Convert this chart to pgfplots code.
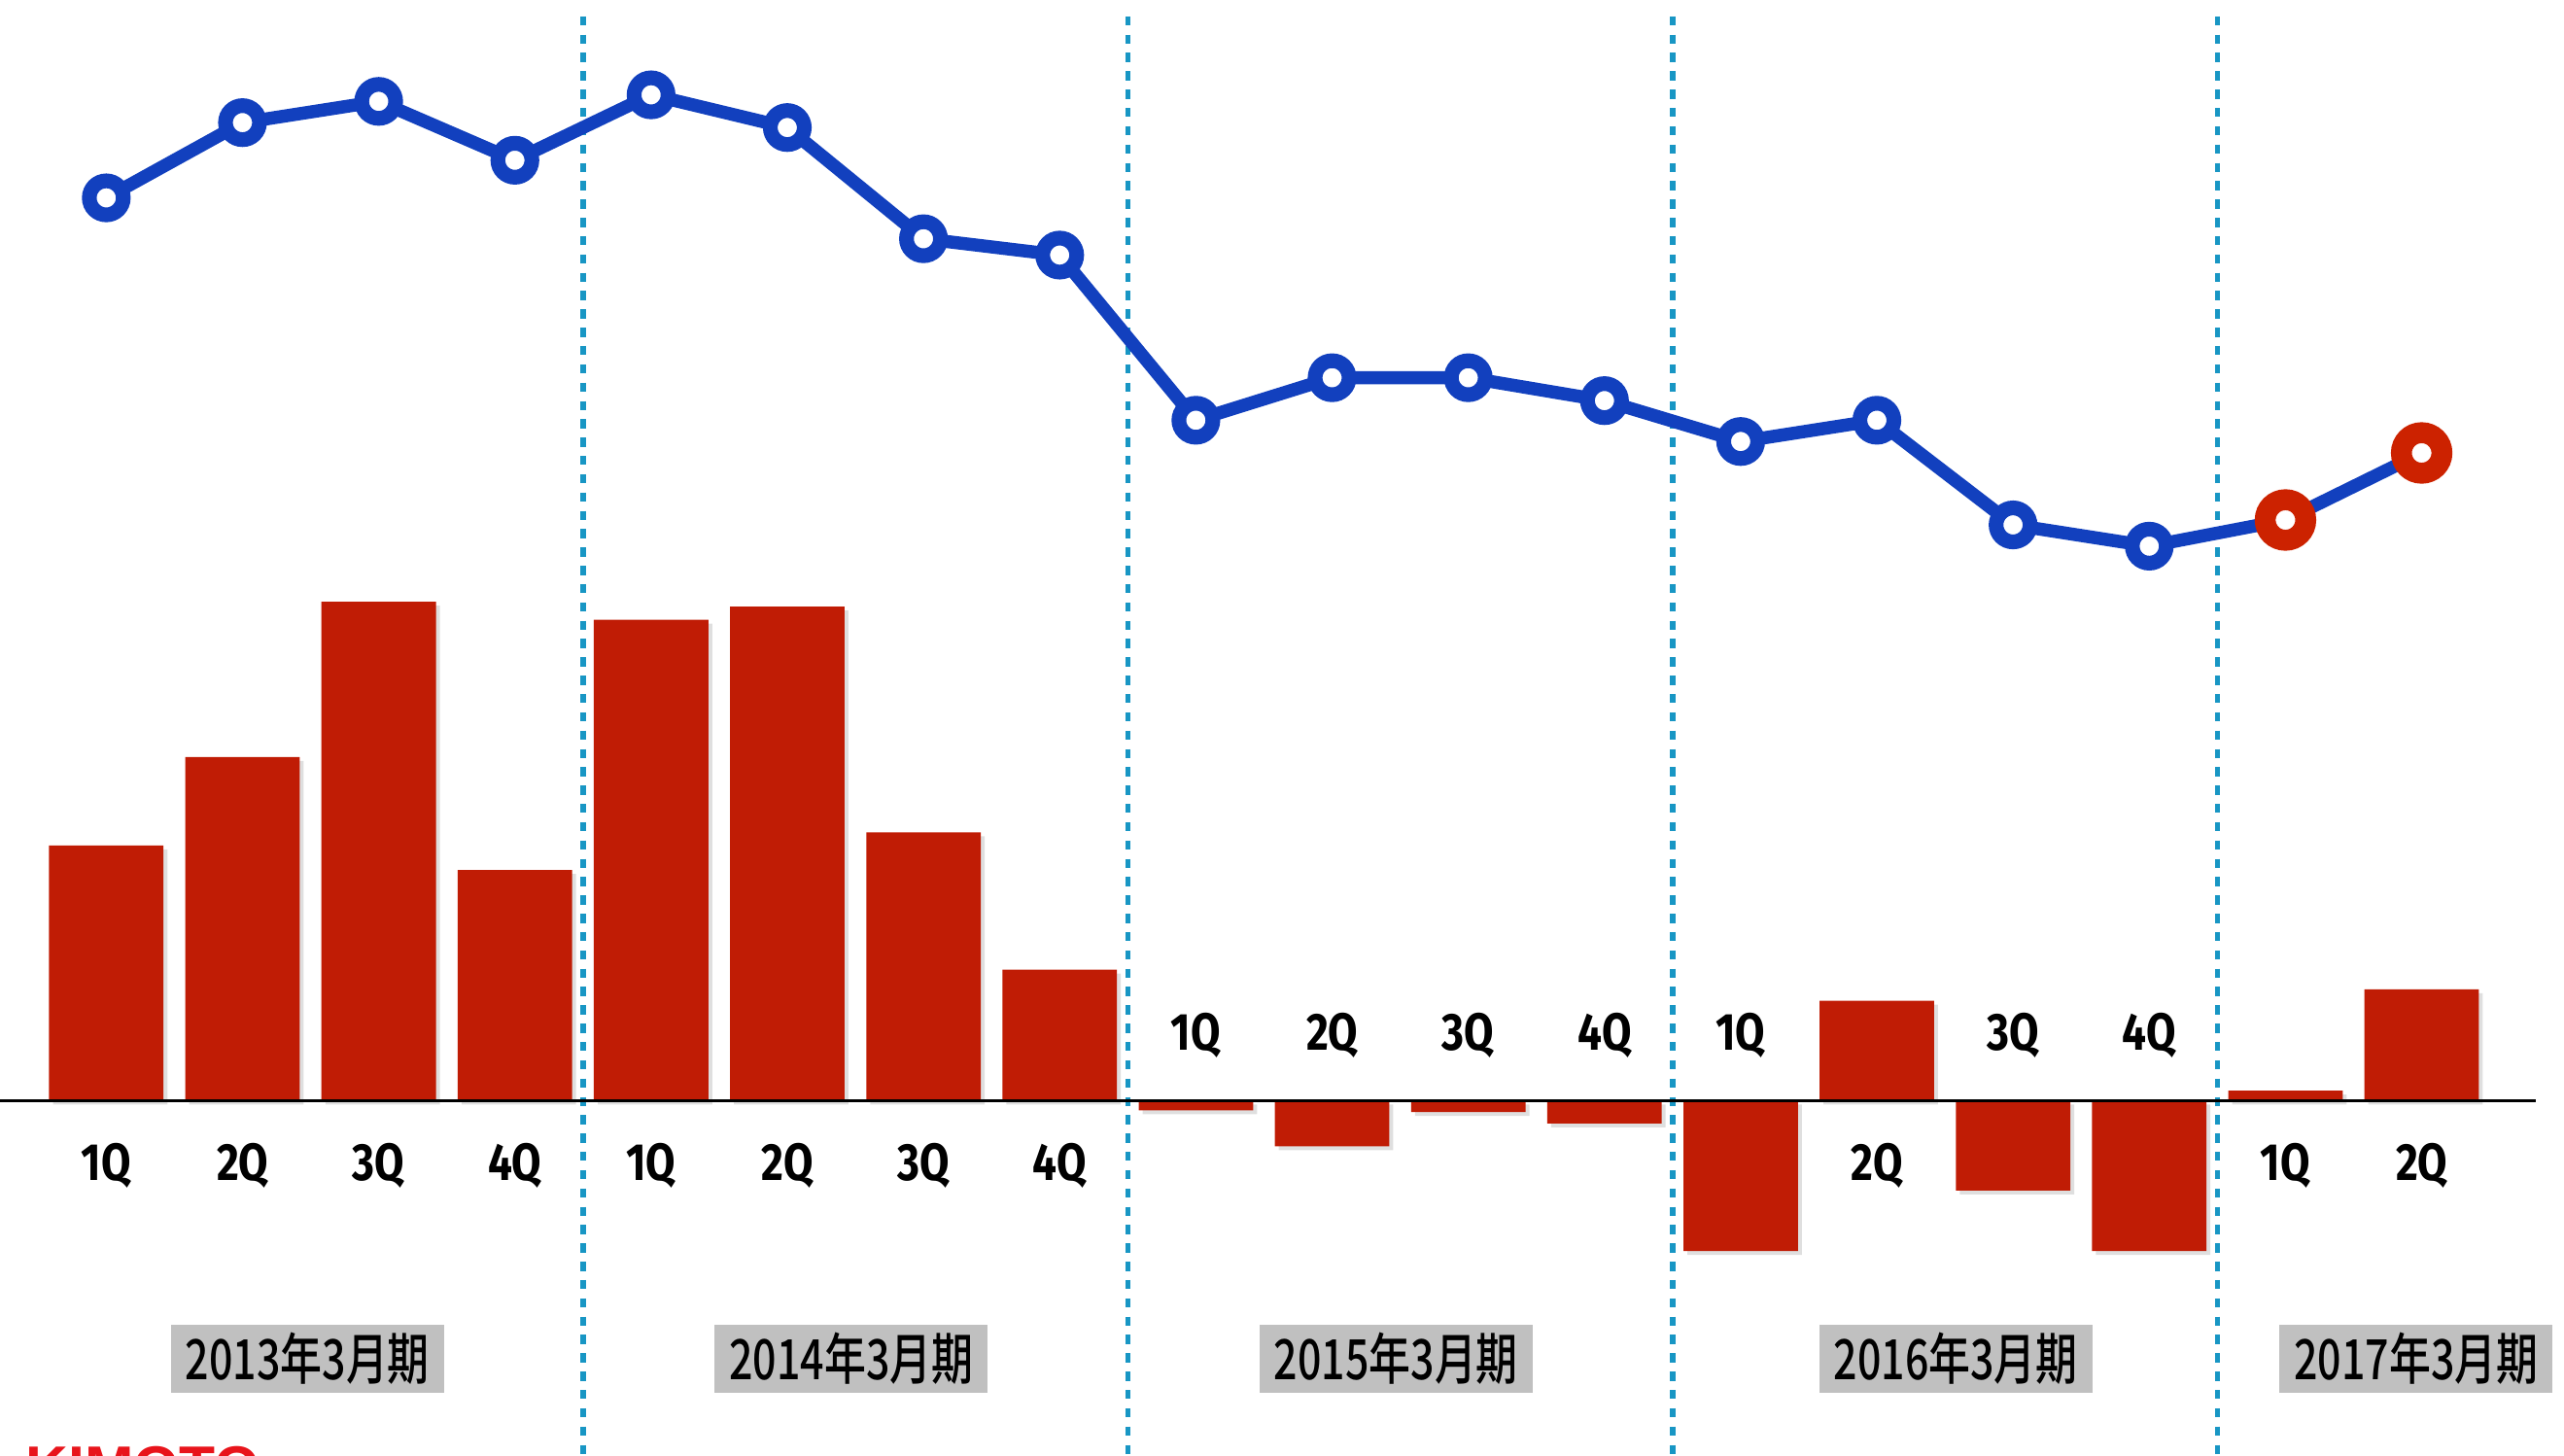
\documentclass[border=0pt]{standalone}
\usepackage{pgfplots}
\pgfplotsset{compat=1.18}
\usepackage{fontspec}
\usepackage{graphicx}
\usetikzlibrary{shadows}
\setmainfont{Fira Sans}
\newfontfamily\cjk[UprightFont=* Medium]{Noto Sans CJK JP}
\newfontfamily\logo{Liberation Sans}
\definecolor{barred}{HTML}{C01C05}
\definecolor{lineblue}{HTML}{1240BE}
\definecolor{markred}{HTML}{CC2200}
\definecolor{sepblue}{HTML}{1896C4}
\definecolor{boxgray}{HTML}{C0C0C0}
\definecolor{logored}{HTML}{E8141B}
\newcommand{\ql}[1]{\scalebox{0.82}[1]{\fontsize{8}{9}\selectfont\bfseries #1}}
\newcommand{\yl}[1]{\scalebox{0.75}[1]{\fontsize{8.5}{10}\selectfont\cjk #1}}
\begin{document}
\begin{tikzpicture}
\begin{axis}[
  scale only axis, width=392pt, height=222.5pt,
  xmin=-0.7804, xmax=18.045, ymin=-217, ymax=673,
  axis lines=none, ticks=none, clip=false,
]
% separators
\addplot[sepblue, line width=0.8pt, dash pattern=on 1.4pt off 1.4pt] coordinates {(3.5,663) (3.5,-217)};
\addplot[sepblue, line width=0.8pt, dash pattern=on 1.4pt off 1.4pt] coordinates {(7.5,663) (7.5,-217)};
\addplot[sepblue, line width=0.8pt, dash pattern=on 1.4pt off 1.4pt] coordinates {(11.5,663) (11.5,-217)};
\addplot[sepblue, line width=0.8pt, dash pattern=on 1.4pt off 1.4pt] coordinates {(15.5,663) (15.5,-217)};
% bars
\addplot[ybar, bar width=17.5pt, bar shift=0pt, fill=barred, draw=none,
  drop shadow={opacity=0.25, shadow xshift=0.6pt, shadow yshift=-0.6pt}] coordinates {
(0,156) (1,210) (2,305) (3,141) (4,294) (5,302) (6,164) (7,80)
(8,-6) (9,-28) (10,-7) (11,-14) (12,-92) (13,61) (14,-55) (15,-92)
(16,6) (17,68)};
% baseline
\addplot[black, line width=0.5pt] coordinates {(-0.7804,0) (17.84,0)};
% line
\addplot[lineblue, line width=2pt, mark=none] coordinates {
(0,552) (1,598) (2,611) (3,575) (4,615) (5,595) (6,527) (7,517)
(8,416) (9,442) (10,442) (11,428) (12,403) (13,416) (14,352) (15,339)
(16,355) (17,396)};
\addplot[only marks, mark=*, mark size=2.6pt, mark options={fill=white, draw=lineblue, line width=2.25pt}] coordinates {
(0,552) (1,598) (2,611) (3,575) (4,615) (5,595) (6,527) (7,517)
(8,416) (9,442) (10,442) (11,428) (12,403) (13,416) (14,352) (15,339)};
\addplot[only marks, mark=*, mark size=3.1pt, mark options={fill=white, draw=markred, line width=3.2pt}] coordinates {
(16,355) (17,396)};
% quarter labels
\node at (axis cs:0,-40) {\ql{1Q}};
\node at (axis cs:1,-40) {\ql{2Q}};
\node at (axis cs:2,-40) {\ql{3Q}};
\node at (axis cs:3,-40) {\ql{4Q}};
\node at (axis cs:4,-40) {\ql{1Q}};
\node at (axis cs:5,-40) {\ql{2Q}};
\node at (axis cs:6,-40) {\ql{3Q}};
\node at (axis cs:7,-40) {\ql{4Q}};
\node at (axis cs:8,40) {\ql{1Q}};
\node at (axis cs:9,40) {\ql{2Q}};
\node at (axis cs:10,40) {\ql{3Q}};
\node at (axis cs:11,40) {\ql{4Q}};
\node at (axis cs:12,40) {\ql{1Q}};
\node at (axis cs:13,-40) {\ql{2Q}};
\node at (axis cs:14,40) {\ql{3Q}};
\node at (axis cs:15,40) {\ql{4Q}};
\node at (axis cs:16,-40) {\ql{1Q}};
\node at (axis cs:17,-40) {\ql{2Q}};
% year labels
\node[fill=boxgray, minimum width=41.75pt, minimum height=10.5pt, inner sep=0pt] at (axis cs:1.477,-158) {\yl{2013年3月期}};
\node[fill=boxgray, minimum width=41.75pt, minimum height=10.5pt, inner sep=0pt] at (axis cs:5.47,-158) {\yl{2014年3月期}};
\node[fill=boxgray, minimum width=41.75pt, minimum height=10.5pt, inner sep=0pt] at (axis cs:9.47,-158) {\yl{2015年3月期}};
\node[fill=boxgray, minimum width=41.75pt, minimum height=10.5pt, inner sep=0pt] at (axis cs:13.58,-158) {\yl{2016年3月期}};
\node[fill=boxgray, minimum width=41.75pt, minimum height=10.5pt, inner sep=0pt] at (axis cs:16.96,-158) {\yl{2017年3月期}};
% logo (cut off)
\node[anchor=north west, inner sep=0pt, text=logored] at (axis cs:-0.6,-211) {\fontsize{9}{10}\selectfont\logo\bfseries KIMOTO};
\end{axis}
\pgfresetboundingbox
\path[use as bounding box] (current axis.south west) rectangle (current axis.north east);
\end{tikzpicture}
\end{document}
